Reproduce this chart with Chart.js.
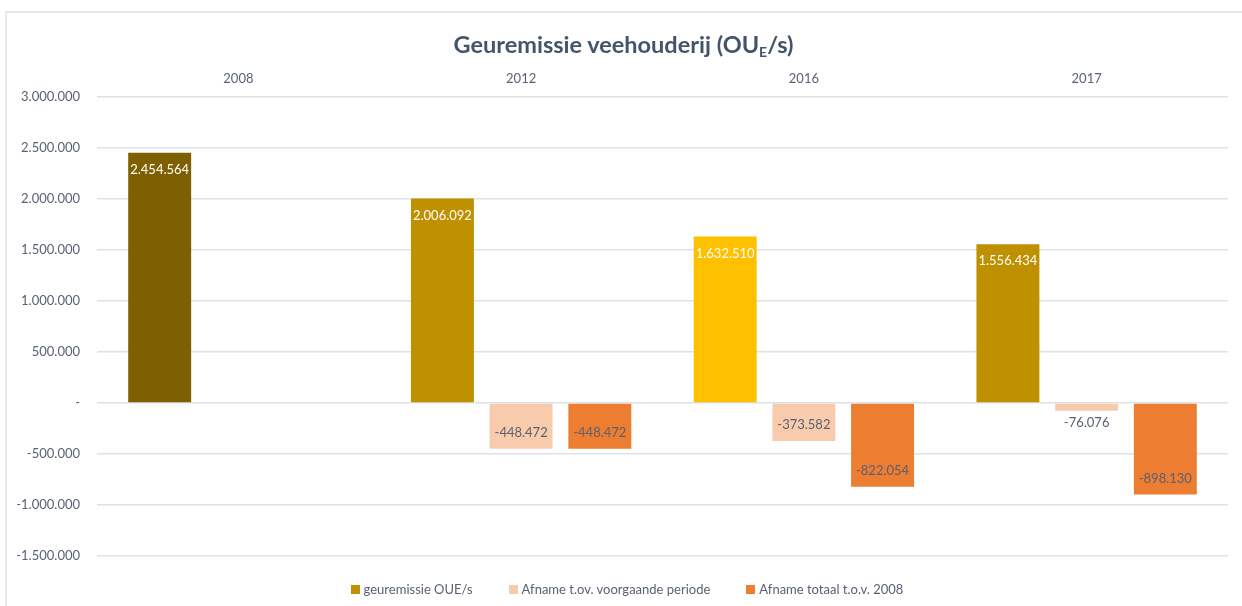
<!DOCTYPE html>
<html>
<head>
<meta charset="utf-8">
<script src="https://cdn.jsdelivr.net/npm/chart.js@4.4.0/dist/chart.umd.min.js"></script>
<style>
  body { margin: 0; background: #ffffff; font-family: Lato, sans-serif; }
  #wrap { position: relative; width: 1242px; height: 606px; }
  #frame {
    position: absolute; left: 5px; top: 11px; right: 0; bottom: 0;
    border-left: 2px solid #e4e7eb; border-top: 2px solid #e4e7eb;
    pointer-events: none;
  }
  #title {
    position: absolute; left: 5px; right: 0; top: 30px;
    text-align: center; font: bold 23.5px Lato, sans-serif; line-height: 28px;
    color: #44546a;
  }
  #title sub { font-size: 14px; vertical-align: -4px; line-height: 0; }
  #legend {
    position: absolute; left: 12px; right: 0; top: 580px; height: 18px;
    display: flex; justify-content: center; align-items: center; gap: 36px;
    font: 13px Lato, sans-serif; color: #596275;
  }
  #legend .item { display: flex; align-items: center; }
  #legend .box { width: 9px; height: 9px; margin-right: 4px; }
  canvas { position: absolute; left: 0; top: 0; }
</style>
</head>
<body>
<div id="wrap">
  <canvas id="chart" width="1242" height="606"></canvas>
  <div id="frame"></div>
  <div id="title">Geuremissie veehouderij (OU<sub>E</sub>/s)</div>
  <div id="legend"></div>
</div>
<script>
// --- data ---
const years = ['2008', '2012', '2016', '2017'];
const seriesNames = ['geuremissie OUE/s', 'Afname t.ov. voorgaande periode', 'Afname totaal t.o.v. 2008'];
const emission = [2454564, 2006092, 1632510, 1556434];
const dropPrevious = [null, -448472, -373582, -76076];
const dropTotal = [null, -448472, -822054, -898130];

// colours
const emissionColors = ['#7f6000', '#bf9000', '#ffc000', '#bf9000'];
const legendColors = ['#bf9000', '#f8cbad', '#ed7d31'];
const textColor = '#596275';

// 1234567 -> 1.234.567, 0 -> '-'
function formatNumber(v) {
    if (v === 0) return '-';
    const s = Math.abs(v).toString().replace(/\B(?=(\d{3})+(?!\d))/g, '.');
    return (v < 0 ? '-' : '') + s;
}

// Build legend from the series names
const legendEl = document.getElementById('legend');
seriesNames.forEach((name, i) => {
    const item = document.createElement('div');
    item.className = 'item';
    const box = document.createElement('span');
    box.className = 'box';
    box.style.background = legendColors[i];
    const label = document.createElement('span');
    label.textContent = name;
    item.appendChild(box);
    item.appendChild(label);
    legendEl.appendChild(item);
});

// Value labels like Excel's "inside end"
const valueLabels = {
    id: 'valueLabels',
    afterDatasetsDraw(chart) {
        const ctx = chart.ctx;
        ctx.save();
        ctx.font = '13px Lato';
        ctx.textAlign = 'center';
        ctx.textBaseline = 'middle';
        chart.data.datasets.forEach((ds, i) => {
            const meta = chart.getDatasetMeta(i);
            meta.data.forEach((bar, j) => {
                const v = ds.data[j];
                if (v == null) return;
                const len = Math.abs(bar.base - bar.y);
                let y;
                if (v >= 0) y = bar.y + 17;
                else if (len > 30) y = bar.y - 16;
                else y = bar.y + 12; // too short, put it under the bar
                ctx.fillStyle = i === 0 ? '#ffffff' : '#5b6172';
                ctx.fillText(formatNumber(v), bar.x, y);
            });
        });
        ctx.restore();
    }
};

Chart.defaults.font.family = 'Lato';
Chart.defaults.font.size = 13;

new Chart(document.getElementById('chart'), {
    type: 'bar',
    data: {
        labels: years,
        datasets: [
            { label: seriesNames[0], data: emission, backgroundColor: emissionColors },
            { label: seriesNames[1], data: dropPrevious, backgroundColor: legendColors[1] },
            { label: seriesNames[2], data: dropTotal, backgroundColor: legendColors[2] }
        ]
    },
    options: {
        responsive: false,
        animation: false,
        categoryPercentage: 0.835,
        barPercentage: 0.8,
        layout: { padding: { top: 60, left: 0, right: 14, bottom: 50 } },
        plugins: {
            legend: { display: false },
            title: { display: false },
            tooltip: { enabled: false }
        },
        scales: {
            x: {
                position: 'top',
                grid: { display: false },
                border: { display: false },
                ticks: { color: textColor, padding: 2 },
                afterFit(scale) { scale.height = 37; }
            },
            y: {
                min: -1500000,
                max: 3000000,
                ticks: {
                    stepSize: 500000,
                    color: textColor,
                    padding: 17,
                    callback: value => formatNumber(value)
                },
                grid: { color: '#dde2e8', lineWidth: 1.5, drawTicks: false },
                border: { display: false },
                afterFit(scale) { scale.width = 97; }
            }
        }
    },
    plugins: [valueLabels]
});
</script>
</body>
</html>
